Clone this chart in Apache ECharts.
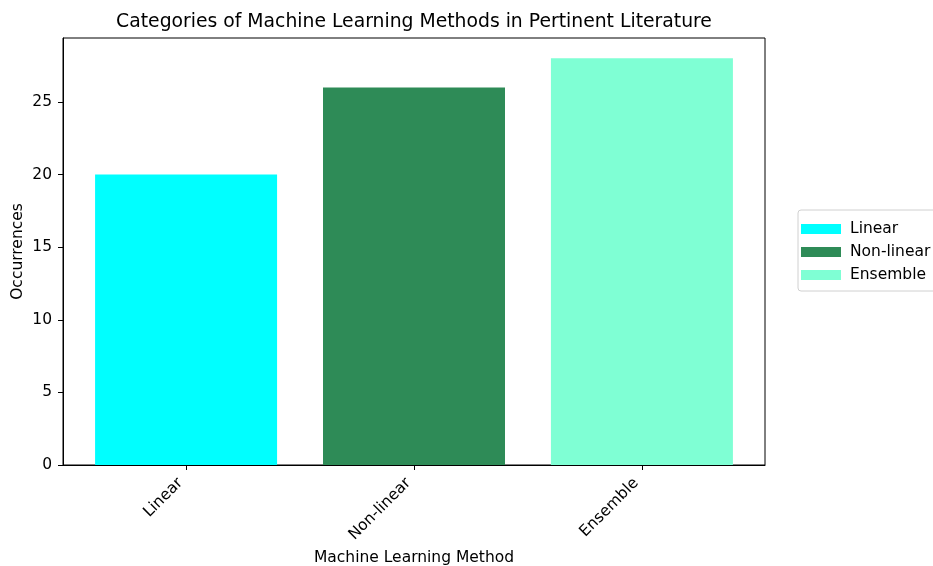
<!DOCTYPE html>
<html>
<head>
<meta charset="utf-8">
<script src="https://cdn.jsdelivr.net/npm/echarts@6/dist/echarts.min.js"></script>
<style>
    html, body { margin: 0; padding: 0; background: #fff; }
    #chart { width: 933px; height: 566px; }
</style>
</head>
<body>
<div id="chart"></div>
<script>
// data
const categories = ['Linear', 'Non-linear', 'Ensemble'];
const occurrences = [20, 26, 28];
const barColors = ['#00ffff', '#2e8b57', '#7fffd4'];
const yTicks = [0, 5, 10, 15, 20, 25];
const xTicks = [0, 1, 2];

const font = 'DejaVu Sans';
let myChart = echarts.init(document.getElementById('chart'));

// one series per category so each gets its own legend entry
let series = categories.map(function (name, i) {
    return {
        name: name,
        type: 'bar',
        data: [[i, occurrences[i]]],
        barWidth: 182,
        barGap: '-100%',
        itemStyle: { color: barColors[i] }
    };
});

let option = {
    animation: false,
    title: {
        text: 'Categories of Machine Learning Methods in Pertinent Literature',
        left: 409,
        top: 8,
        textAlign: 'center',
        textStyle: { fontFamily: font, fontSize: 18.8, fontWeight: 'normal', color: '#000' }
    },
    legend: {
        orient: 'vertical',
        left: 798,
        top: 210,
        icon: 'rect',
        itemWidth: 40,
        itemHeight: 10,
        itemGap: 7,
        padding: [11, 6, 8, 3],
        borderColor: '#d0d0d0',
        borderWidth: 1,
        borderRadius: 3,
        textStyle: { fontFamily: font, fontSize: 15.5, color: '#000', padding: [0, 0, 0, 4] },
        data: categories
    },
    grid: {
        left: 63,
        right: 168,
        top: 38,
        bottom: 101,
        outerBoundsMode: 'none',
        containLabel: false,
        show: true,
        borderColor: '#000',
        borderWidth: 1
    },
    xAxis: {
        type: 'value',
        min: -0.54,
        max: 2.54,
        name: 'Machine Learning Method',
        nameLocation: 'middle',
        nameGap: 85,
        nameMoveOverlap: false,
        nameTextStyle: { fontFamily: font, fontSize: 15.5, color: '#000' },
        axisLine: { show: true, onZero: false, lineStyle: { color: '#000' } },
        axisTick: { show: true, customValues: xTicks, length: 5, lineStyle: { color: '#000' } },
        axisLabel: {
            customValues: xTicks,
            rotate: 45,
            margin: 10,
            padding: [0, 8, 0, 0],
            fontFamily: font,
            fontSize: 15.5,
            color: '#000',
            formatter: function (v) { return categories[Math.round(v)]; }
        },
        splitLine: { show: false }
    },
    yAxis: {
        type: 'value',
        min: 0,
        max: 29.4,
        name: 'Occurrences',
        nameLocation: 'middle',
        nameGap: 37,
        nameMoveOverlap: false,
        nameTextStyle: { fontFamily: font, fontSize: 15.5, color: '#000' },
        axisLine: { show: true, onZero: false, lineStyle: { color: '#000' } },
        axisTick: { show: true, customValues: yTicks, length: 5, lineStyle: { color: '#000' } },
        axisLabel: {
            customValues: yTicks,
            margin: 11,
            fontFamily: font,
            fontSize: 15.5,
            color: '#000'
        },
        splitLine: { show: false }
    },
    series: series
};
myChart.setOption(option);
</script>
</body>
</html>
